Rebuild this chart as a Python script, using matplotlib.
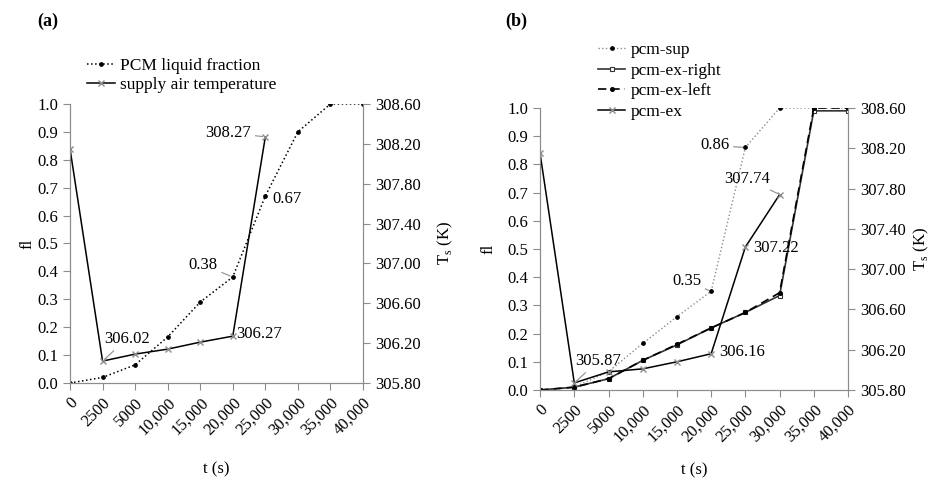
import matplotlib.pyplot as plt
import numpy as np

plt.rcParams['font.family'] = ['Liberation Serif', 'DejaVu Serif']
plt.rcParams['font.size'] = 12
plt.rcParams['mathtext.fontset'] = 'custom'
plt.rcParams['mathtext.rm'] = 'Liberation Serif'

# categorical time axis
t_labels = ['0', '2500', '5000', '10,000', '15,000', '20,000',
            '25,000', '30,000', '35,000', '40,000']

# (a) values
liq_frac_a = [0.0, 0.02, 0.065, 0.165, 0.29, 0.38, 0.67, 0.90, 1.0, 1.0]
supply_temp_a = [308.15, 306.02, 306.09, 306.14, 306.21, 306.27, 308.27]

# (b) values
pcm_sup = [0.0, 0.01, 0.065, 0.165, 0.26, 0.35, 0.86, 1.0, 1.0, 1.0]
pcm_ex_right = [0.0, 0.01, 0.04, 0.105, 0.16, 0.22, 0.275, 0.335, 0.99, 0.99]
pcm_ex_left = [0.0, 0.01, 0.04, 0.105, 0.162, 0.22, 0.275, 0.345, 1.0, 1.0]
pcm_ex_temp = [308.15, 305.87, 305.98, 306.01, 306.08, 306.16, 307.22, 307.74]

left_ticks = np.round(np.arange(0, 1.01, 0.1), 1)
right_ticks = [305.8, 306.2, 306.6, 307.0, 307.4, 307.8, 308.2, 308.6]

GRAY = '#8c8c8c'


def style_axes(ax, ax2, xlab_y, fl_x, ts_x):
    ax.set_xlim(0, len(t_labels) - 1)
    ax.set_xticks(range(len(t_labels)))
    ax.set_xticklabels(t_labels, rotation=45, ha='right', rotation_mode='anchor')
    ax.set_ylim(0, 1.0)
    ax.set_yticks(left_ticks)
    ax.set_yticklabels([f'{v:.1f}' for v in left_ticks])
    ax2.set_ylim(305.8, 308.6)
    ax2.set_yticks(right_ticks)
    ax2.set_yticklabels([f'{v:.2f}' for v in right_ticks])
    for a in (ax, ax2):
        a.spines['top'].set_visible(False)
        for s in ('left', 'right', 'bottom'):
            a.spines[s].set_color(GRAY)
        a.tick_params(color=GRAY, length=5, width=0.8)
    ax.set_xlabel('t (s)', va='center')
    ax.xaxis.set_label_coords(0.5, xlab_y)
    ax.set_ylabel('fl', va='center')
    ax.yaxis.set_label_coords(fl_x, 0.5)
    ax2.set_ylabel(r'T$_\mathrm{s}$ (K)', va='center')
    ax2.yaxis.set_label_coords(ts_x, 0.5)


def note(ax, text, xy, off, ha='left', va='center', line=True):
    ax.annotate(text, xy=xy, xytext=off, textcoords='offset pixels',
                ha=ha, va=va,
                arrowprops=dict(arrowstyle='-', color=GRAY, lw=0.8,
                                shrinkA=1, shrinkB=2) if line else None)


fig = plt.figure(figsize=(9.36, 4.79), dpi=100)

# ---------- (a) ----------
axa = fig.add_axes([0.0748, 0.2004, 0.3130, 0.5826])
axa2 = axa.twinx()
x = np.arange(len(t_labels))
l1, = axa.plot(x, liq_frac_a, ls=':', color='black', lw=1.1,
               marker='o', ms=2.4, mfc='black', mec='black',
               label='PCM liquid fraction')
l2, = axa2.plot(x[:len(supply_temp_a)], supply_temp_a, ls='-', color='black',
                lw=1.1, marker='x', ms=4, mec=GRAY, label='supply air temperature')
style_axes(axa, axa2, -0.31, -0.147, 1.28)
axa.legend(handles=[l1, l2], loc='lower left', bbox_to_anchor=(0.04, 1.02),
           frameon=False, handlelength=1.6, handletextpad=0.3,
           labelspacing=0.15, borderpad=0.1, borderaxespad=0.2, fontsize=12.5)

note(axa2, '306.02', (1, 306.02), (24, 14), ha='center', va='bottom')
note(axa2, '306.27', (5, 306.27), (3, 2), ha='left', line=False)
note(axa2, '308.27', (6, 308.27), (-14, 4), ha='right')
note(axa, '0.67', (6, 0.67), (7, -3), ha='left', line=False)
note(axa, '0.38', (5, 0.38), (-15, 12), ha='right')
fig.text(0.04, 0.955, '(a)', fontweight='bold', fontsize=13, va='center')

# ---------- (b) ----------
axb = fig.add_axes([0.577, 0.1858, 0.329, 0.5887])
axb2 = axb.twinx()
m1, = axb.plot(x, pcm_sup, ls=':', color=GRAY, lw=1.0,
               marker='o', ms=2.4, mfc='black', mec='black', label='pcm-sup')
m2, = axb.plot(x, pcm_ex_right, ls='-', color='#333333', lw=1.2,
               marker='s', ms=3, mfc='white', mec='#333333', mew=0.8,
               label='pcm-ex-right')
m3, = axb.plot(x, pcm_ex_left, ls=(0, (5, 3)), color='black', lw=1.2,
               marker='o', ms=2.6, mfc='black', mec='black', label='pcm-ex-left')
m4, = axb2.plot(x[:len(pcm_ex_temp)], pcm_ex_temp, ls='-', color='black', lw=1.1,
                marker='x', ms=4, mec=GRAY, label='pcm-ex')
style_axes(axb, axb2, -0.284, -0.169, 1.237)
axb.legend(handles=[m1, m2, m3, m4], loc='lower left', bbox_to_anchor=(0.17, 0.94),
           frameon=False, handlelength=1.6, handletextpad=0.3,
           labelspacing=0.25, borderpad=0.1, borderaxespad=0.2, fontsize=12.5)

note(axb2, '305.87', (1, 305.87), (24, 14), ha='center', va='bottom')
note(axb2, '306.16', (5, 306.16), (8, 2), ha='left', line=False)
note(axb, '0.35', (5, 0.35), (-10, 10), ha='right')
note(axb, '0.86', (6, 0.86), (-16, 2), ha='right')
note(axb2, '307.74', (7, 307.74), (-32, 8), ha='center', va='bottom')
note(axb2, '307.22', (6, 307.22), (8, -1), ha='left', line=False)
fig.text(0.54, 0.955, '(b)', fontweight='bold', fontsize=13, va='center')

fig.savefig('out.png', dpi=100)
